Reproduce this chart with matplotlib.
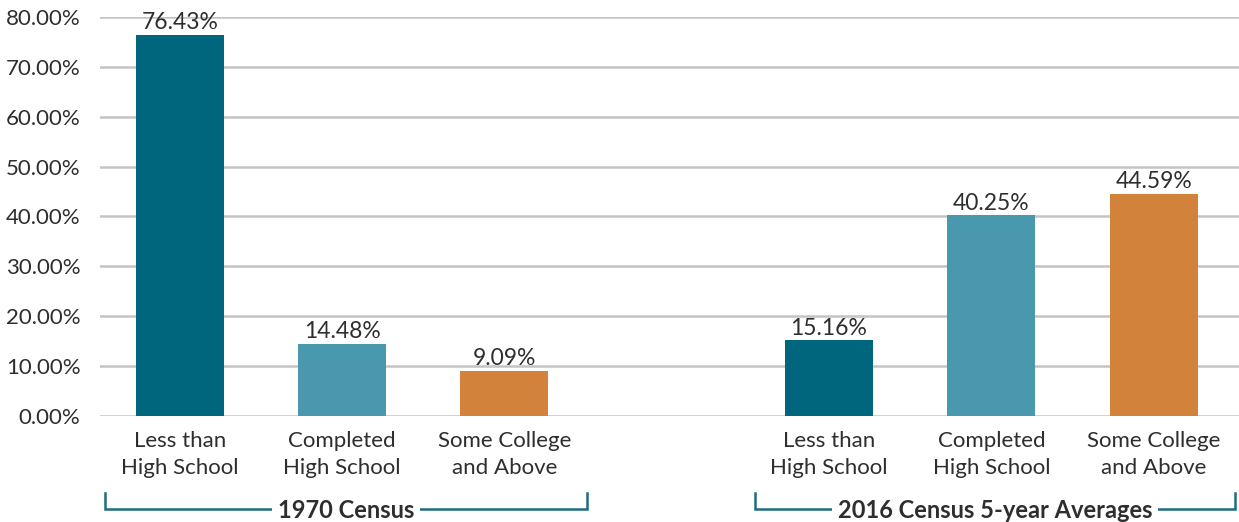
import matplotlib
matplotlib.use("Agg")
import matplotlib.pyplot as plt
import matplotlib.transforms as mtransforms

categories = ["Less than\nHigh School", "Completed\nHigh School", "Some College\nand Above"]
groups = ["1970 Census", "2016 Census 5-year Averages"]
values_1970 = [76.43, 14.48, 9.09]
values_2016 = [15.16, 40.25, 44.59]
yticks = [0, 10, 20, 30, 40, 50, 60, 70, 80]

colors = ["#00667E", "#4A98AE", "#D2823A"]
text_color = "#2E2E2E"
bracket_color = "#1F6B7F"

plt.rcParams['font.family'] = ['Lato', 'DejaVu Sans']

fig = plt.figure(figsize=(12.39, 5.22), dpi=100)
ax = fig.add_axes([100/1239, 106/522, 1139/1239, 399/522])

pos1 = [0, 1, 2]
pos2 = [4, 5, 6]
w = 0.542
ax.bar(pos1, values_1970, width=w, color=colors, zorder=3)
ax.bar(pos2, values_2016, width=w, color=colors, zorder=3)

for p, v in zip(pos1 + pos2, values_1970 + values_2016):
    ax.text(p, v + 0.3, f"{v:.2f}%", ha="center", va="bottom", fontsize=16.5,
            color=text_color, zorder=4)

ax.set_ylim(0, 80)
ax.set_xlim(-0.492, 6.526)
ax.set_yticks(yticks)
ax.set_yticklabels([f"{t:.2f}%" for t in yticks], fontsize=16, color=text_color)
ax.set_xticks(pos1 + pos2)
ax.set_xticklabels(categories * 2, fontsize=16, color=text_color, linespacing=1.42)
ax.tick_params(axis="both", length=0)
ax.tick_params(axis="y", pad=14)
ax.tick_params(axis="x", pad=11)
ax.grid(axis="y", color="#C4C4C4", linewidth=1.8, zorder=0)
for s in ax.spines.values():
    s.set_visible(False)

trans = mtransforms.blended_transform_factory(ax.transData, ax.transAxes)
y_top = -0.193
y_bot = -0.233
brackets = [(-0.461, 2.508), (3.543, 6.501)]
for (x0, x1), label in zip(brackets, groups):
    ax.plot([x0, x0, x1, x1], [y_top, y_bot, y_bot, y_top], color=bracket_color,
            linewidth=1.8, transform=trans, clip_on=False, solid_joinstyle="miter")
    ax.text((x0 + x1) / 2, y_bot - 0.005, label, ha="center", va="center", fontsize=17,
            fontweight="bold", color=text_color, transform=trans,
            bbox=dict(facecolor="white", edgecolor="none", pad=4))

fig.savefig("out.png", dpi=100)
